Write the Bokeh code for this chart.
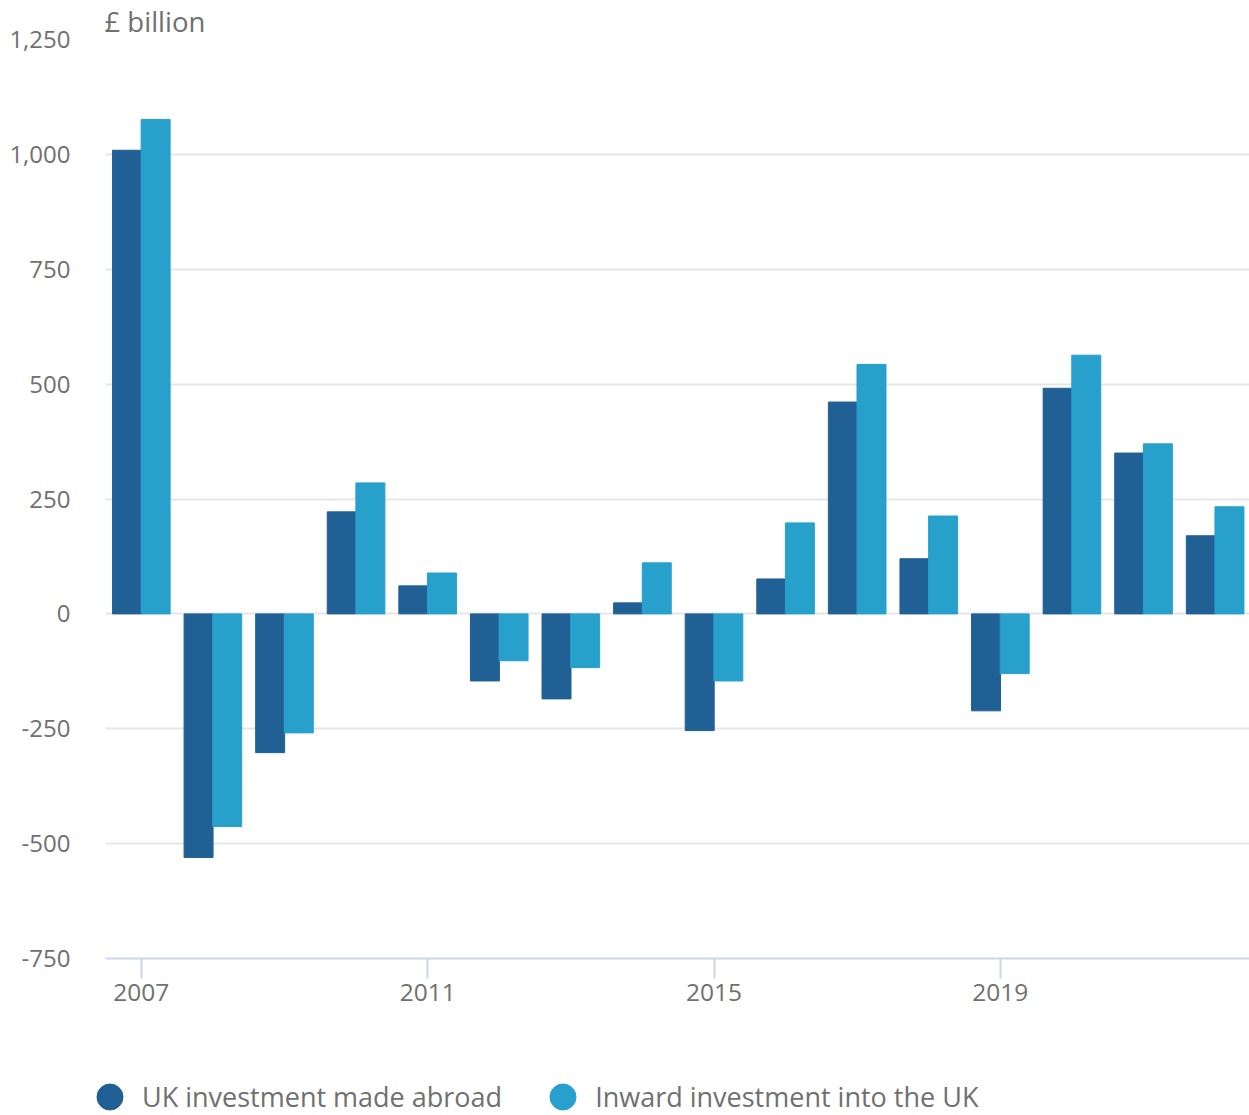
from bokeh.plotting import figure
from bokeh.layouts import column
from bokeh.models import (ColumnDataSource, Range1d, FixedTicker, NumeralTickFormatter,
                          Legend, LegendItem, BasicTickFormatter)
from bokeh.transform import dodge
from bokeh.embed import file_html
from bokeh.resources import INLINE

years = list(range(2007, 2023))
uk_abroad = [1009, -530, -302, 222, 61, -146, -185, 24, -254, 76, 461, 120, -211, 491, 350, 170]
inward_uk = [1076, -463, -259, 285, 89, -102, -117, 111, -146, 198, 543, 213, -130, 563, 370, 233]
y_ticks = [-750, -500, -250, 0, 250, 500, 750, 1000, 1250]
x_ticks = [2007, 2011, 2015, 2019]
series_names = ["UK investment made abroad", "Inward investment into the UK"]
unit_label = "£ billion"

DARK = "#206095"
LIGHT = "#27a0cc"
TEXT = "#707070"
FONT = "Open Sans"

src = ColumnDataSource(dict(year=years, a=uk_abroad, b=inward_uk))

p = figure(width=1249, height=1035, output_backend="svg", toolbar_location=None,
           x_range=Range1d(2006.5, 2022.48), y_range=Range1d(-750, 1250),
           min_border_left=105, min_border_right=0, min_border_top=38, min_border_bottom=77)
p.outline_line_color = None
p.frame_align = False

p.title.text = unit_label
p.title.align = "left"
p.title.text_font = FONT
p.title.text_font_size = "27.5px"
p.title.text_font_style = "normal"
p.title.text_color = TEXT
p.title.standoff = 0
p.title.offset = -1

r1 = p.vbar(x=dodge("year", -0.2, range=p.x_range), top="a", bottom=0, width=0.405,
            source=src, fill_color=DARK, line_color=DARK, line_width=1)
r2 = p.vbar(x=dodge("year", 0.2, range=p.x_range), top="b", bottom=0, width=0.405,
            source=src, fill_color=LIGHT, line_color=LIGHT, line_width=1)

p.xgrid.grid_line_color = None
p.ygrid.ticker = FixedTicker(ticks=y_ticks)
p.ygrid.grid_line_color = "#e6e6e6"
p.ygrid.grid_line_width = 2
p.ygrid.level = "underlay"

ya = p.yaxis[0]
ya.ticker = FixedTicker(ticks=y_ticks)
ya.formatter = NumeralTickFormatter(format="0,0")
ya.axis_line_color = None
ya.major_tick_line_color = None
ya.major_tick_out = 0
ya.major_tick_in = 0
ya.minor_tick_line_color = None
ya.major_label_text_font = FONT
ya.major_label_text_font_size = "24px"
ya.major_label_text_color = TEXT
ya.major_label_standoff = 35

xa = p.xaxis[0]
xa.ticker = FixedTicker(ticks=x_ticks)
xa.formatter = BasicTickFormatter(use_scientific=False)
xa.axis_line_color = "#ccd6eb"
xa.axis_line_width = 2
xa.major_tick_line_color = "#ccd6eb"
xa.major_tick_line_width = 2
xa.major_tick_out = 20
xa.major_tick_in = 0
xa.minor_tick_line_color = None
xa.major_label_text_font = FONT
xa.major_label_text_font_size = "24.5px"
xa.major_label_text_color = TEXT
xa.major_label_standoff = 5

# legend figure
lf = figure(width=1249, height=80, output_backend="svg", toolbar_location=None,
            x_range=Range1d(0, 1), y_range=Range1d(0, 1),
            x_axis_location=None, y_axis_location=None,
            min_border=0, min_border_left=0, min_border_right=0, min_border_top=0, min_border_bottom=0)
lf.outline_line_color = None
lf.grid.visible = False
lf.frame_align = False
nan = float("nan")
m1 = lf.scatter(x=[nan], y=[nan], marker="circle", fill_color=DARK, line_color=DARK)
m2 = lf.scatter(x=[nan], y=[nan], marker="circle", fill_color=LIGHT, line_color=LIGHT)

legend = Legend(items=[LegendItem(label=series_names[0], renderers=[m1]),
                       LegendItem(label=series_names[1], renderers=[m2])],
                orientation="horizontal", location=(77, -14))
legend.label_text_font = FONT
legend.label_text_font_size = "27px"
legend.label_text_color = TEXT
legend.border_line_color = None
legend.background_fill_alpha = 0
legend.glyph_width = 65
legend.glyph_height = 65
legend.label_standoff = 0
legend.spacing = 28
legend.padding = 0
legend.margin = 0
lf.add_layout(legend, "center")

layout = column(p, lf, spacing=0)
open("out.html", "w").write(file_html(layout, INLINE))
